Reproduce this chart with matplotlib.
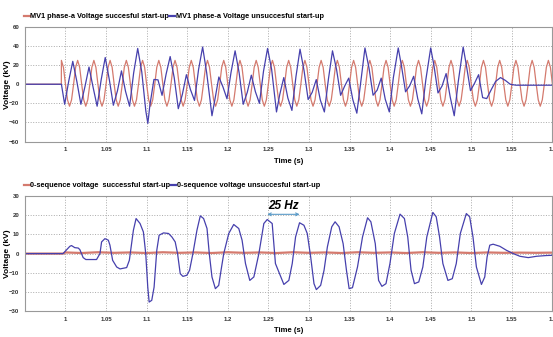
import matplotlib
matplotlib.use('Agg')
import matplotlib.pyplot as plt
from matplotlib.lines import Line2D
from matplotlib.ticker import FuncFormatter

# ---------------------------------------------------------------------------
# Datos: tiempo (s) y tensión (kV)
# ---------------------------------------------------------------------------

# Tensión fase-a MV1, arranque correcto (50 Hz)
red_top_t = [0.9500, 0.9949,
             0.9950, 0.9975, 1.0000, 1.0025, 1.0050, 1.0075, 1.0100, 1.0125,
             1.0150, 1.0175, 1.0200, 1.0225, 1.0250, 1.0275, 1.0300, 1.0325,
             1.0350, 1.0375, 1.0400, 1.0425, 1.0450, 1.0475, 1.0500, 1.0525,
             1.0550, 1.0575, 1.0600, 1.0625, 1.0650, 1.0675, 1.0700, 1.0725,
             1.0750, 1.0775, 1.0800, 1.0825, 1.0850, 1.0875, 1.0900, 1.0925,
             1.0950, 1.0975, 1.1000, 1.1025, 1.1050, 1.1075, 1.1100, 1.1125,
             1.1150, 1.1175, 1.1200, 1.1225, 1.1250, 1.1275, 1.1300, 1.1325,
             1.1350, 1.1375, 1.1400, 1.1425, 1.1450, 1.1475, 1.1500, 1.1525,
             1.1550, 1.1575, 1.1600, 1.1625, 1.1650, 1.1675, 1.1700, 1.1725,
             1.1750, 1.1775, 1.1800, 1.1825, 1.1850, 1.1875, 1.1900, 1.1925,
             1.1950, 1.1975, 1.2000, 1.2025, 1.2050, 1.2075, 1.2100, 1.2125,
             1.2150, 1.2175, 1.2200, 1.2225, 1.2250, 1.2275, 1.2300, 1.2325,
             1.2350, 1.2375, 1.2400, 1.2425, 1.2450, 1.2475, 1.2500, 1.2525,
             1.2550, 1.2575, 1.2600, 1.2625, 1.2650, 1.2675, 1.2700, 1.2725,
             1.2750, 1.2775, 1.2800, 1.2825, 1.2850, 1.2875, 1.2900, 1.2925,
             1.2950, 1.2975, 1.3000, 1.3025, 1.3050, 1.3075, 1.3100, 1.3125,
             1.3150, 1.3175, 1.3200, 1.3225, 1.3250, 1.3275, 1.3300, 1.3325,
             1.3350, 1.3375, 1.3400, 1.3425, 1.3450, 1.3475, 1.3500, 1.3525,
             1.3550, 1.3575, 1.3600, 1.3625, 1.3650, 1.3675, 1.3700, 1.3725,
             1.3750, 1.3775, 1.3800, 1.3825, 1.3850, 1.3875, 1.3900, 1.3925,
             1.3950, 1.3975, 1.4000, 1.4025, 1.4050, 1.4075, 1.4100, 1.4125,
             1.4150, 1.4175, 1.4200, 1.4225, 1.4250, 1.4275, 1.4300, 1.4325,
             1.4350, 1.4375, 1.4400, 1.4425, 1.4450, 1.4475, 1.4500, 1.4525,
             1.4550, 1.4575, 1.4600, 1.4625, 1.4650, 1.4675, 1.4700, 1.4725,
             1.4750, 1.4775, 1.4800, 1.4825, 1.4850, 1.4875, 1.4900, 1.4925,
             1.4950, 1.4975, 1.5000, 1.5025, 1.5050, 1.5075, 1.5100, 1.5125,
             1.5150, 1.5175, 1.5200, 1.5225, 1.5250, 1.5275, 1.5300, 1.5325,
             1.5350, 1.5375, 1.5400, 1.5425, 1.5450, 1.5475, 1.5500, 1.5525,
             1.5550, 1.5575, 1.5600, 1.5625, 1.5650, 1.5675, 1.5700, 1.5725,
             1.5750, 1.5775, 1.5800, 1.5825, 1.5850, 1.5875, 1.5900, 1.5925,
             1.5950, 1.5975, 1.6000]
red_top_v = [0, 0,
             25, 17.7, 0, -16.3, -23, -16.3, 0, 17.7,
             25, 17.7, 0, -16.3, -23, -16.3, 0, 17.7,
             25, 17.7, 0, -16.3, -23, -16.3, 0, 17.7,
             25, 17.7, 0, -16.3, -23, -16.3, 0, 17.7,
             25, 17.7, 0, -16.3, -23, -16.3, 0, 17.7,
             25, 17.7, 0, -16.3, -23, -16.3, 0, 17.7,
             25, 17.7, 0, -16.3, -23, -16.3, 0, 17.7,
             25, 17.7, 0, -16.3, -23, -16.3, 0, 17.7,
             25, 17.7, 0, -16.3, -23, -16.3, 0, 17.7,
             25, 17.7, 0, -16.3, -23, -16.3, 0, 17.7,
             25, 17.7, 0, -16.3, -23, -16.3, 0, 17.7,
             25, 17.7, 0, -16.3, -23, -16.3, 0, 17.7,
             25, 17.7, 0, -16.3, -23, -16.3, 0, 17.7,
             25, 17.7, 0, -16.3, -23, -16.3, 0, 17.7,
             25, 17.7, 0, -16.3, -23, -16.3, 0, 17.7,
             25, 17.7, 0, -16.3, -23, -16.3, 0, 17.7,
             25, 17.7, 0, -16.3, -23, -16.3, 0, 17.7,
             25, 17.7, 0, -16.3, -23, -16.3, 0, 17.7,
             25, 17.7, 0, -16.3, -23, -16.3, 0, 17.7,
             25, 17.7, 0, -16.3, -23, -16.3, 0, 17.7,
             25, 17.7, 0, -16.3, -23, -16.3, 0, 17.7,
             25, 17.7, 0, -16.3, -23, -16.3, 0, 17.7,
             25, 17.7, 0, -16.3, -23, -16.3, 0, 17.7,
             25, 17.7, 0, -16.3, -23, -16.3, 0, 17.7,
             25, 17.7, 0, -16.3, -23, -16.3, 0, 17.7,
             25, 17.7, 0, -16.3, -23, -16.3, 0, 17.7,
             25, 17.7, 0, -16.3, -23, -16.3, 0, 17.7,
             25, 17.7, 0, -16.3, -23, -16.3, 0, 17.7,
             25, 17.7, 0, -16.3, -23, -16.3, 0, 17.7,
             25, 17.7, 0, -16.3, -23, -16.3, 0, 17.7,
             25, 17.7, 0]

# Tensión fase-a MV1, arranque fallido
blue_top_t = [0.950, 0.995, 0.999, 1.004, 1.009, 1.014, 1.019, 1.024, 1.029, 1.034,
              1.039, 1.044, 1.049, 1.054, 1.059, 1.064, 1.069, 1.074, 1.079, 1.084,
              1.089, 1.094, 1.099, 1.1015, 1.104, 1.109, 1.114, 1.119, 1.124, 1.129,
              1.134, 1.139, 1.144, 1.149, 1.154, 1.159, 1.164, 1.169, 1.174, 1.1805,
              1.184, 1.189, 1.194, 1.199, 1.204, 1.209, 1.214, 1.219, 1.224, 1.229,
              1.234, 1.239, 1.244, 1.249, 1.254, 1.260, 1.264, 1.269, 1.274, 1.279,
              1.284, 1.289, 1.294, 1.299, 1.304, 1.309, 1.314, 1.319, 1.324, 1.329,
              1.334, 1.339, 1.344, 1.349, 1.354, 1.359, 1.364, 1.369, 1.374, 1.379,
              1.384, 1.389, 1.394, 1.399, 1.404, 1.410, 1.414, 1.419, 1.424, 1.429,
              1.434, 1.439, 1.444, 1.450, 1.454, 1.459, 1.464, 1.469, 1.474, 1.479,
              1.484, 1.490, 1.494, 1.499, 1.504, 1.509, 1.514, 1.519, 1.525, 1.530,
              1.536, 1.542, 1.548, 1.555, 1.600]
blue_top_v = [0, 0, -21, 3.2, 24, 3, -21, -2.5, 18, -3,
              -23, 4.7, 28, 5, -22, -7, 14, -7.4, -23, 11.8,
              37.5, 13, -28, -41, -22, 5, 4.6, -11.6, 10.6, 29,
              6.8, -25.6, -10.7, 10, -5.6, -17, 15.5, 39, 11.9, -33,
              -16.6, 7.6, -2.7, -15.2, 12.5, 35, 11.9, -21, -8.4, 9.5,
              -7.8, -20, 13.6, 37.5, 15.6, -29, -10.8, 7, -14.4, -27.4,
              8.1, 36.7, 14.1, -16, -8.4, 4.9, -16.5, -29, 5.5, 35,
              15.5, -11.6, -1.9, 6.4, -16, -30.3, 3.5, 38, 16.9, -11.5,
              -6.2, 6.4, -15.7, -29, 7, 38, 19.1, -7.9, -1.8, 8.3,
              -15.1, -31, 4.7, 38, 19.6, -9.1, -1.8, 11.2, -13.2, -33,
              3, 39, 19.6, -6.7, 1, 10, -14, -15, -5, 3,
              7, 4, 0, -1, -1]

# Tensión homopolar, arranque correcto
red_bot_t = [0.950, 0.997, 1.000, 1.020, 1.040, 1.060, 1.080, 1.100, 1.120, 1.140,
             1.160, 1.180, 1.200, 1.220, 1.240, 1.260, 1.280, 1.300, 1.320, 1.340,
             1.360, 1.380, 1.400, 1.420, 1.440, 1.460, 1.480, 1.500, 1.520, 1.540,
             1.560, 1.580, 1.600]
red_bot_v = [0, 0, 0.6, 0.3, 0.7, 0.4, 0.6, 0.3, 0.7, 0.4,
             0.6, 0.3, 0.7, 0.4, 0.6, 0.3, 0.7, 0.4, 0.6, 0.3,
             0.7, 0.4, 0.6, 0.3, 0.7, 0.4, 0.6, 0.3, 0.6, 0.4,
             0.5, 0.4, 0.5]

# Tensión homopolar, arranque fallido (~25 Hz)
blue_bot_t = [0.950, 0.997, 1.0054, 1.0074, 1.0115, 1.0157, 1.0177, 1.0218, 1.0251, 1.0383,
              1.0425, 1.0445, 1.0486, 1.0528, 1.0548, 1.0581, 1.0631, 1.0672, 1.0754, 1.0787,
              1.0837, 1.0870, 1.0919, 1.0960, 1.0989, 1.1014, 1.1031, 1.1063, 1.1092, 1.1125,
              1.1154, 1.1208, 1.1270, 1.1311, 1.1352, 1.1381, 1.1414, 1.1447, 1.1496, 1.1529,
              1.1570, 1.1620, 1.1661, 1.1702, 1.1744, 1.1772, 1.1805, 1.1847, 1.1888, 1.1917,
              1.1950, 1.2012, 1.2073, 1.2135, 1.2176, 1.2218, 1.2271, 1.2321, 1.2383, 1.2444,
              1.2486, 1.2547, 1.2587, 1.2691, 1.2752, 1.2794, 1.2835, 1.2884, 1.2938, 1.2979,
              1.3021, 1.3062, 1.3091, 1.3144, 1.3186, 1.3227, 1.3281, 1.3322, 1.3371, 1.3421,
              1.3462, 1.3495, 1.3536, 1.3598, 1.3660, 1.3722, 1.3763, 1.3817, 1.3858, 1.3899,
              1.3949, 1.3998, 1.4052, 1.4122, 1.4176, 1.4217, 1.4258, 1.4300, 1.4353, 1.4403,
              1.4452, 1.4526, 1.4568, 1.4609, 1.4650, 1.4712, 1.4766, 1.4815, 1.4865, 1.4939,
              1.4980, 1.5021, 1.5063, 1.5125, 1.5166, 1.5195, 1.5228, 1.5269, 1.5352, 1.5434,
              1.5517, 1.5599, 1.5702, 1.5805, 1.5929, 1.6000]
blue_bot_v = [0, 0, 3.8, 4.2, 3.1, 2.9, 2.1, -2.1, -3.1, -3.1,
              0, 6.1, 7.8, 7.0, 4.4, -3.5, -7.0, -8.0, -7.3, -3.5,
              12.2, 18.3, 15.7, 11.3, 0, -17.5, -25.3, -24.4, -17.5, 1.7,
              9.6, 10.8, 10.5, 8.7, 6.1, 0, -10.5, -11.9, -11.3, -8.7,
              0, 12.2, 19.7, 18.3, 13.1, 0, -12.2, -18.3, -16.6, -8.7,
              0, 10.5, 15.2, 13.1, 7.0, -5.2, -14.0, -12.2, 0, 15.7,
              17.8, 15.7, -5.2, -16.1, -14.0, -5.2, 8.7, 16.1, 14.8, 10.5,
              -1.7, -15.7, -18.8, -16.6, -8.7, 3.5, 14.0, 16.6, 14.0, 5.2,
              -8.7, -18.3, -17.8, -7.0, 8.7, 18.7, 16.6, 5.2, -14.0, -17.1,
              -15.7, -5.2, 10.5, 20.6, 18.3, 8.7, -8.7, -15.7, -14.8, -7.0,
              8.7, 21.5, 19.2, 8.7, -5.2, -14.0, -13.1, -5.2, 10.5, 20.9,
              19.2, 8.7, -7.0, -16.1, -12.2, -1.7, 4.4, 4.9, 3.8, 1.7,
              0, -1.4, -2.1, -1.4, -1.0, -0.9]

x_ticks = [1, 1.05, 1.1, 1.15, 1.2, 1.25, 1.3, 1.35, 1.4, 1.45, 1.5, 1.55, 1.6]
y_ticks_top = [-60, -40, -20, 0, 20, 40, 60]
y_ticks_bot = [-30, -20, -10, 0, 10, 20, 30]

labels_top = ['MV1 phase-a Voltage succesful start-up',
              'MV1 phase-a Voltage unsuccesful start-up']
labels_bot = ['0-sequence voltage  successful start-up',
              '0-sequence voltage unsuccesful start-up']

ROJO = '#d47a6e'
AZUL = '#4640ad'
FUENTE = ['Liberation Sans Narrow', 'Liberation Sans', 'DejaVu Sans']


def preparar_eje(ax, y_ticks, etiquetas):
    ax.set_xlim(0.95, 1.6)
    ax.set_ylim(y_ticks[0], y_ticks[-1])
    ax.set_xticks(x_ticks)
    ax.set_yticks(y_ticks)
    ax.xaxis.set_major_formatter(FuncFormatter(lambda x, p: f'{x:g}'))
    ax.tick_params(length=0, pad=4, labelsize=4.3, labelcolor='#333333')
    for lbl in ax.get_xticklabels() + ax.get_yticklabels():
        lbl.set_fontweight('bold')
        lbl.set_family(FUENTE)
    ax.grid(True, linestyle=':', color='#aaaaaa', linewidth=0.7)
    for sp in ax.spines.values():
        sp.set_color('#999999')
        sp.set_linewidth(0.8)
    ax.set_xlabel('Time (s)', fontsize=5.5, fontweight='bold', family=FUENTE, labelpad=4)
    ax.set_ylabel('Voltage (kV)', fontsize=6, fontweight='bold', family=FUENTE)
    ax.yaxis.set_label_coords(-0.027, 0.5)

    handles = [Line2D([], [], color=ROJO, lw=1.6), Line2D([], [], color=AZUL, lw=1.6)]
    ax.legend(handles, etiquetas, loc='lower left', bbox_to_anchor=(-0.002, 1.06),
              ncol=2, frameon=False, handlelength=0.8, handletextpad=0.1,
              columnspacing=0.0, borderaxespad=0, borderpad=0,
              prop=dict(family=FUENTE, weight='bold', size=5.3))


fig = plt.figure(figsize=(5.53, 3.37), dpi=100)
ax1 = fig.add_axes([0.045, 0.580, 0.954, 0.340])
ax2 = fig.add_axes([0.045, 0.077, 0.954, 0.341])

# Gráfico superior
ax1.plot(red_top_t, red_top_v, color=ROJO, lw=0.9)
ax1.plot(blue_top_t, blue_top_v, color=AZUL, lw=0.9)
preparar_eje(ax1, y_ticks_top, labels_top)

# Gráfico inferior
ax2.plot(red_bot_t, red_bot_v, color=ROJO, lw=1.6)
ax2.plot(blue_bot_t, blue_bot_v, color=AZUL, lw=0.9)
preparar_eje(ax2, y_ticks_bot, labels_bot)

# Anotación del periodo de 25 Hz
ax2.annotate('', xy=(1.2486, 20.5), xytext=(1.2885, 20.5),
             arrowprops=dict(arrowstyle='<->', color='#5b9bc8', lw=0.8,
                             shrinkA=0, shrinkB=0, mutation_scale=5))
ax2.text(1.2685, 24.8, '25 Hz', fontsize=8.5, fontweight='bold', style='italic',
         ha='center', va='center', family=FUENTE)

fig.savefig('out.png', dpi=100)
plt.close(fig)
